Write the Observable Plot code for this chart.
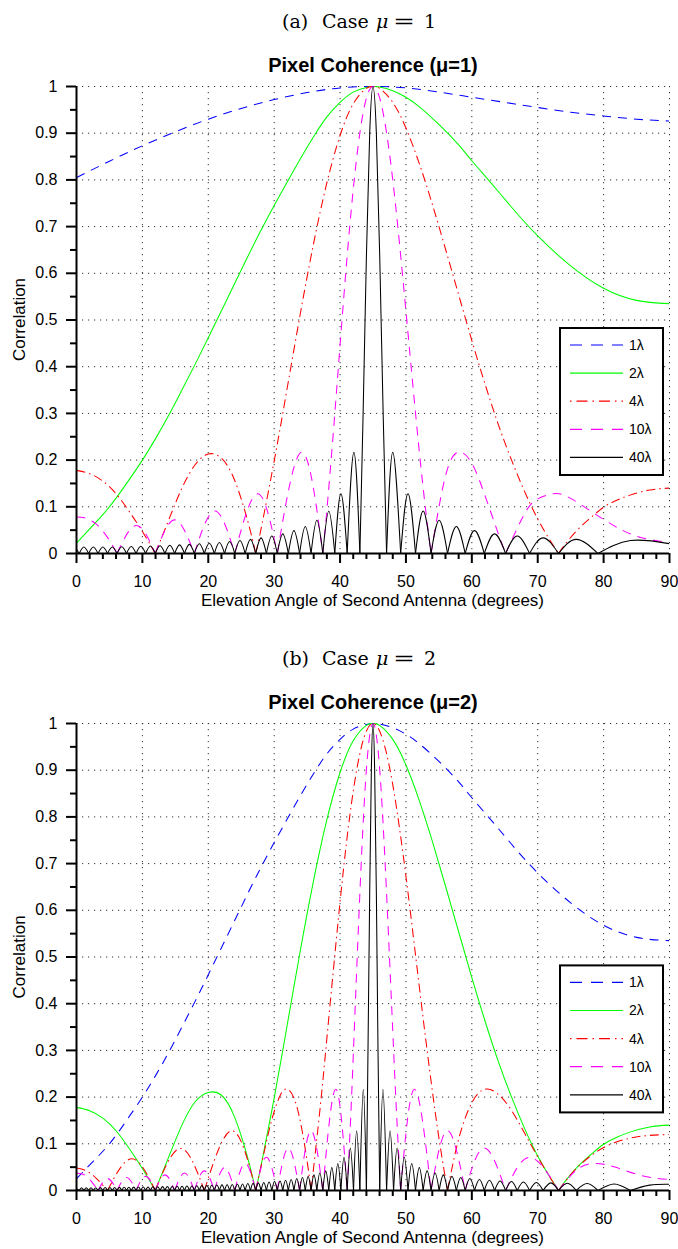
<!DOCTYPE html>
<html><head><meta charset="utf-8">
<script src="https://cdn.jsdelivr.net/npm/d3@7"></script>
<script src="https://cdn.jsdelivr.net/npm/@observablehq/plot@0.6"></script>
<style>
html,body{margin:0;padding:0;background:#fff;}
#page{position:relative;width:678px;height:1249px;overflow:hidden;background:#fff;}
.plot{position:absolute;left:0;}
#overlay{position:absolute;left:0;top:0;pointer-events:none;}
</style></head><body><div id="page"></div>
<script>
// ---------------- data ----------------
const angleTicks = [0,10,20,30,40,50,60,70,80,90];
const angleMinorTicks = [2,4,6,8,12,14,16,18,22,24,26,28,32,34,36,38,42,44,46,48,52,54,56,58,62,64,66,68,72,74,76,78,82,84,86,88];
const corrTicks = [0,0.1,0.2,0.3,0.4,0.5,0.6,0.7,0.8,0.9,1];
const corrMinorTicks = [0.05,0.15,0.25,0.35,0.45,0.55,0.65,0.75,0.85,0.95];
const seriesNames = ["1λ","2λ","4λ","10λ","40λ"];
const panelLetters = ["(a)","(b)"];
const panelMu = ["1","2"];
const panelTitles = ["Pixel Coherence (μ=1)","Pixel Coherence (μ=2)"];
const xLabel = "Elevation Angle of Second Antenna (degrees)";
const yLabel = "Correlation";

// μ = 1 : [angle, correlation]
const mu1_L1 = [[0,0.805],[5,0.84],[10,0.873],[15,0.903],[20,0.93],[25,0.953],[30,0.972],[35,0.987],[40,0.997],[45,1],[50,0.997],[55,0.988],[60,0.977],[65,0.966],[70,0.955],[75,0.945],[80,0.937],[85,0.93],[90,0.926]];
const mu1_L2 = [[0,0.022],[2.5,0.06],[5,0.1],[7.5,0.148],[10,0.2],[12,0.246],[14,0.296],[16,0.35],[18,0.405],[20,0.462],[22,0.52],[24,0.578],[26,0.636],[28,0.692],[30,0.745],[32,0.796],[34,0.846],[36,0.893],[38,0.935],[40,0.966],[42,0.988],[44,0.998],[45,1],[46,0.999],[48,0.991],[50,0.977],[52,0.957],[55,0.919],[58,0.875],[60,0.841],[63,0.792],[66,0.742],[70,0.68],[75,0.616],[80,0.568],[85,0.542],[90,0.535]];
const mu1_L4 = [[0,0.178],[2,0.171],[4,0.155],[6,0.128],[8,0.09],[10,0.047],[11.95,0],[14,0.072],[16,0.14],[18,0.19],[20,0.213],[22,0.204],[24,0.157],[26,0.069],[27.2,0],[28,0.052],[30,0.198],[32,0.356],[34,0.516],[36,0.665],[38,0.794],[40,0.895],[42,0.963],[44,0.996],[45,1],[46,0.996],[48,0.966],[50,0.911],[52,0.836],[54,0.748],[56,0.652],[58,0.554],[60,0.456],[62,0.363],[64,0.277],[66,0.201],[68,0.133],[70,0.074],[72,0.025],[73.16,0],[74,0.017],[76,0.05],[78,0.076],[80,0.099],[82,0.114],[84,0.125],[87,0.136],[90,0.14]];
const mu1_L10 = [[0,0.078],[1,0.077],[2,0.072],[3,0.063],[4,0.048],[5,0.028],[6.15,0],[9.1,0.06],[11.95,0],[14.9,0.072],[17.88,0],[21,0.091],[24.02,0],[27.5,0.128],[30.47,0],[34.2,0.217],[37.38,0],[38,0.093],[39,0.263],[40,0.446],[41,0.624],[42,0.779],[43,0.9],[44,0.975],[45,1],[46,0.976],[47,0.906],[48,0.8],[49,0.667],[50,0.519],[51,0.368],[52,0.222],[53,0.092],[53.81,0],[56,0.166],[58,0.217],[60,0.193],[62,0.124],[64,0.043],[65.13,0],[68,0.085],[70,0.117],[72.4,0.128],[75,0.118],[80,0.073],[85,0.037],[90,0.024]];
const mu1_L40 = [[0,0.009],[0.41,0],[1.12,0.014],[1.84,0],[2.55,0.014],[3.27,0],[4,0.014],[4.71,0],[5.43,0.014],[6.15,0],[6.87,0.0145],[7.59,0],[8.31,0.015],[9.04,0],[9.76,0.0155],[10.49,0],[11.22,0.016],[11.95,0],[12.68,0.0168],[13.42,0],[14.16,0.0175],[14.9,0],[15.64,0.0185],[16.39,0],[17.13,0.0195],[17.88,0],[18.64,0.0207],[19.4,0],[20.16,0.022],[20.92,0],[21.69,0.0236],[22.47,0],[23.24,0.0255],[24.02,0],[24.81,0.0277],[25.6,0],[26.4,0.0303],[27.2,0],[28.01,0.0335],[28.82,0],[29.64,0.0375],[30.47,0],[31.31,0.042],[32.15,0],[33,0.049],[33.86,0],[34.72,0.058],[35.6,0],[36.48,0.071],[37.38,0],[38.29,0.091],[39.2,0],[40.13,0.128],[41.08,0],[42.1,0.217],[43.01,0],[43.5,0.3],[44,0.637],[44.5,0.9],[45,1],[45.51,0.9],[46.02,0.637],[46.54,0.3],[47.06,0],[48,0.217],[49.2,0],[50.31,0.128],[51.45,0],[52.61,0.091],[53.81,0],[55.04,0.071],[56.31,0],[57.65,0.058],[58.99,0],[60.41,0.049],[61.89,0],[63.45,0.042],[65.13,0],[66.89,0.0375],[68.77,0],[70.82,0.0335],[73.16,0],[75.85,0.0303],[79.14,0],[84.07,0.0277],[90,0.021]];

// μ = 2
const mu2_L1 = [[0,0.025],[2.5,0.062],[5,0.1],[7.5,0.148],[10,0.2],[12,0.246],[14,0.296],[16,0.35],[18,0.405],[20,0.462],[22,0.52],[24,0.578],[26,0.636],[28,0.692],[30,0.745],[32,0.796],[34,0.846],[36,0.893],[38,0.935],[40,0.966],[42,0.988],[44,0.998],[45,1],[46,0.999],[48,0.991],[50,0.977],[52,0.957],[55,0.919],[58,0.875],[60,0.841],[63,0.792],[66,0.742],[70,0.68],[75,0.616],[80,0.568],[85,0.542],[90,0.535]];
const mu2_L2 = [[0,0.178],[2,0.171],[4,0.155],[6,0.128],[8,0.09],[10,0.047],[11.95,0],[14,0.072],[16,0.14],[18,0.19],[20,0.21],[22,0.204],[24,0.157],[26,0.069],[27.2,0],[28,0.052],[30,0.198],[32,0.356],[34,0.516],[36,0.665],[38,0.794],[40,0.895],[42,0.963],[44,0.996],[45,1],[46,0.996],[48,0.966],[50,0.911],[52,0.836],[54,0.748],[56,0.652],[58,0.554],[60,0.456],[62,0.363],[64,0.277],[66,0.201],[68,0.133],[70,0.074],[72,0.025],[73.16,0],[74,0.017],[76,0.05],[78,0.076],[80,0.099],[82,0.114],[84,0.125],[87,0.136],[90,0.14]];
const mu2_L4 = [[0,0.048],[1.5,0.042],[3,0.026],[4.71,0],[8.4,0.068],[11.95,0],[15.8,0.09],[19.4,0],[23.6,0.128],[27.2,0],[29,0.115],[30,0.169],[31,0.206],[32,0.217],[33,0.198],[34,0.146],[35,0.063],[35.6,0],[37,0.18],[38,0.326],[39,0.474],[40,0.618],[41,0.748],[42,0.855],[43,0.935],[44,0.984],[45,1],[46,0.984],[47,0.939],[48,0.869],[49,0.778],[50,0.673],[51,0.558],[52,0.44],[53,0.324],[54,0.214],[55,0.113],[56,0.025],[56.31,0],[58,0.11],[60,0.188],[62,0.217],[64,0.206],[66,0.172],[68,0.123],[70,0.072],[72,0.025],[73.16,0],[76,0.049],[80,0.092],[84,0.112],[87,0.118],[90,0.12]];
const mu2_L10 = [[0,0.037],[1.5,0.031],[3.27,0],[4.71,0.0255],[6.15,0],[7.59,0.0277],[9.04,0],[10.49,0.0303],[11.95,0],[13.42,0.0335],[14.9,0],[16.39,0.0375],[17.88,0],[19.4,0.042],[20.92,0],[22.47,0.049],[24.02,0],[25.6,0.058],[27.2,0],[28.82,0.071],[30.47,0],[32.15,0.091],[33.86,0],[35.6,0.128],[37.38,0],[39.35,0.217],[41.08,0],[41.5,0.121],[42,0.287],[43,0.634],[44,0.902],[45,1],[46,0.905],[47,0.654],[48,0.341],[48.6,0.158],[49.2,0],[51.3,0.217],[53.81,0],[56.31,0.128],[58.99,0],[61.89,0.091],[65.13,0],[68.77,0.071],[73.16,0],[76,0.045],[78.8,0.058],[82,0.049],[86,0.031],[90,0.0235]];
const mu2_L40 = [[0,0.004],[0.41,0],[0.77,0.0057],[1.12,0],[1.48,0.0058],[1.84,0],[2.2,0.006],[2.56,0],[2.92,0.0061],[3.27,0],[3.63,0.0062],[3.99,0],[4.35,0.0063],[4.71,0],[5.07,0.0064],[5.43,0],[5.79,0.0066],[6.15,0],[6.51,0.0067],[6.87,0],[7.23,0.0068],[7.59,0],[7.95,0.007],[8.31,0],[8.68,0.0072],[9.04,0],[9.4,0.0073],[9.76,0],[10.13,0.0075],[10.49,0],[10.86,0.0077],[11.22,0],[11.59,0.0079],[11.95,0],[12.32,0.0081],[12.69,0],[13.06,0.0083],[13.42,0],[13.79,0.0085],[14.16,0],[14.53,0.0087],[14.9,0],[15.27,0.009],[15.64,0],[16.02,0.0092],[16.39,0],[16.76,0.0095],[17.13,0],[17.51,0.0098],[17.88,0],[18.26,0.0101],[18.64,0],[19.02,0.0104],[19.4,0],[19.78,0.0108],[20.16,0],[20.54,0.0112],[20.92,0],[21.3,0.0116],[21.69,0],[22.08,0.012],[22.47,0],[22.86,0.0125],[23.24,0],[23.63,0.013],[24.02,0],[24.42,0.0135],[24.81,0],[25.2,0.0141],[25.6,0],[26,0.0148],[26.4,0],[26.8,0.0155],[27.2,0],[27.6,0.0163],[28.01,0],[28.42,0.0172],[28.82,0],[29.23,0.0182],[29.64,0],[30.06,0.0193],[30.47,0],[30.89,0.0205],[31.31,0],[31.73,0.022],[32.15,0],[32.58,0.0236],[33,0],[33.43,0.0255],[33.86,0],[34.29,0.0277],[34.72,0],[35.16,0.0303],[35.6,0],[36.04,0.0335],[36.48,0],[36.93,0.0375],[37.38,0],[37.83,0.042],[38.29,0],[38.75,0.049],[39.2,0],[39.66,0.058],[40.13,0],[40.6,0.071],[41.08,0],[41.56,0.091],[42.04,0],[42.52,0.128],[43.01,0],[43.53,0.217],[44,0],[44.24,0.3],[44.5,0.637],[44.75,0.9],[45,1],[45.25,0.9],[45.51,0.637],[45.76,0.3],[46.02,0],[46.51,0.217],[47.06,0],[47.59,0.128],[48.12,0],[48.66,0.091],[49.2,0],[49.75,0.071],[50.31,0],[50.88,0.058],[51.45,0],[52.03,0.049],[52.61,0],[53.21,0.042],[53.81,0],[54.42,0.0375],[55.04,0],[55.67,0.0335],[56.31,0],[56.98,0.0303],[57.65,0],[58.32,0.0277],[58.99,0],[59.7,0.0255],[60.41,0],[61.15,0.0236],[61.89,0],[62.67,0.022],[63.45,0],[64.29,0.0205],[65.13,0],[66.01,0.0193],[66.89,0],[67.83,0.0182],[68.77,0],[69.79,0.0172],[70.82,0],[71.99,0.0163],[73.16,0],[74.5,0.0155],[75.85,0],[77.5,0.0148],[79.14,0],[81.6,0.0141],[84.07,0],[87,0.0115],[90,0.0133]];

const panelSeries = [
  [mu1_L1, mu1_L2, mu1_L4, mu1_L10, mu1_L40],
  [mu2_L1, mu2_L2, mu2_L4, mu2_L10, mu2_L40]
];

// ---------------- styles ----------------
const seriesStroke = ["#0000ff","#00ff00","#ff0000","#ff00ff","#000000"];
const seriesDash = ["9,7", null, "9,4,1.5,4", "9,7", null];
const SANS = "'Liberation Sans', Arial, Helvetica, sans-serif";
const SERIF = "'DejaVu Serif', serif";

// split a series into lobes at its zero points so each lobe is a separate smooth path
function lobeRows(points, name) {
  const rows = [];
  let seg = 0;
  points.forEach(([x, y], i) => {
    rows.push({x, y, seg: name + "_" + seg});
    if (y === 0 && i > 0 && i < points.length - 1) {
      seg++;
      rows.push({x, y, seg: name + "_" + seg});
    }
  });
  return rows;
}

const page = document.getElementById("page");
const PANEL_DY = 637;
const gridStyle = {stroke: "#333", strokeOpacity: 1, strokeWidth: 1, strokeDasharray: "1.2,4.8"};

panelSeries.forEach((sets, p) => {
  const marks = [
    Plot.gridX({ticks: angleTicks.slice(1), ...gridStyle}),
    Plot.gridY({ticks: corrTicks.slice(1), ...gridStyle}),
  ];
  sets.forEach((pts, i) => {
    marks.push(Plot.line(lobeRows(pts, seriesNames[i]), {
      x: "x", y: "y", z: "seg", curve: "natural",
      stroke: seriesStroke[i], strokeWidth: 1.05,
      strokeDasharray: seriesDash[i] || undefined,
      strokeLinecap: "butt", strokeLinejoin: "round", clip: true
    }));
  });
  marks.push(
    Plot.ruleX([0], {strokeWidth: 2}),
    Plot.ruleY([0], {strokeWidth: 2}),
    Plot.axisX({ticks: angleTicks, tickSize: 10, tickPadding: 12, tickFormat: d => String(d), strokeWidth: 2, label: null}),
    Plot.axisX({ticks: angleMinorTicks, tickSize: 6, tickFormat: () => "", strokeWidth: 2, label: null}),
    Plot.axisY({ticks: corrTicks, tickSize: 10, tickPadding: 9, tickFormat: d => String(d), strokeWidth: 2, label: null}),
    Plot.axisY({ticks: corrMinorTicks, tickSize: 6, tickFormat: () => "", strokeWidth: 2, label: null})
  );
  const svg = Plot.plot({
    width: 678, height: 522,
    marginLeft: 76, marginRight: 9, marginTop: 10, marginBottom: 45,
    x: {domain: [0, 90], label: null},
    y: {domain: [0, 1], label: null},
    style: {fontFamily: SANS, fontSize: "16px", color: "#000", background: "transparent", overflow: "visible"},
    marks
  });
  svg.classList.add("plot");
  svg.style.top = (76 + p * PANEL_DY) + "px";
  page.appendChild(svg);
});

// ---------------- overlay: captions, titles, axis labels, legends ----------------
const ov = d3.create("svg").attr("id", "overlay").attr("width", 678).attr("height", 1249);
panelSeries.forEach((sets, p) => {
  const dy = p * 637.4;
  const g = ov.append("g").attr("transform", `translate(0,${dy})`);
  const cap = g.append("g").attr("font-family", SERIF).attr("font-size", 19).attr("fill", "#000");
  cap.append("text").attr("x", 282).attr("y", 28).text(panelLetters[p]);
  cap.append("text").attr("x", 322).attr("y", 28).text("Case");
  cap.append("text").attr("x", 376).attr("y", 28).attr("font-style", "italic").text("μ");
  cap.append("text").attr("x", 393).attr("y", 28).attr("textLength", 22).attr("lengthAdjust", "spacingAndGlyphs").text("=");
  cap.append("text").attr("x", 424).attr("y", 28).text(panelMu[p]);
  g.append("text").attr("x", 373).attr("y", 72).attr("text-anchor", "middle")
    .attr("font-family", SANS).attr("font-weight", "bold").attr("font-size", 20).text(panelTitles[p]);
  g.append("text").attr("x", 372.5).attr("y", 606).attr("text-anchor", "middle")
    .attr("font-family", SANS).attr("font-size", 17).text(xLabel);
  g.append("text").attr("transform", "translate(25,319.5) rotate(-90)").attr("text-anchor", "middle")
    .attr("font-family", SANS).attr("font-size", 17).text(yLabel);
  const lg = g.append("g");
  lg.append("rect").attr("x", 560).attr("y", 328).attr("width", 103).attr("height", 147)
    .attr("fill", "#fff").attr("stroke", "#000").attr("stroke-width", 2);
  seriesNames.forEach((name, i) => {
    const yy = 345 + i * 28.1;
    lg.append("line").attr("x1", 570).attr("x2", 623).attr("y1", yy).attr("y2", yy)
      .attr("stroke", seriesStroke[i]).attr("stroke-width", 1.2)
      .attr("stroke-dasharray", seriesDash[i] ? (i === 2 ? "1.5,5,11,5" : "12,9") : null);
    lg.append("text").attr("x", 629).attr("y", yy + 5).attr("font-family", SANS).attr("font-size", 14).text(name);
  });
});
page.appendChild(ov.node());
</script></body></html>
